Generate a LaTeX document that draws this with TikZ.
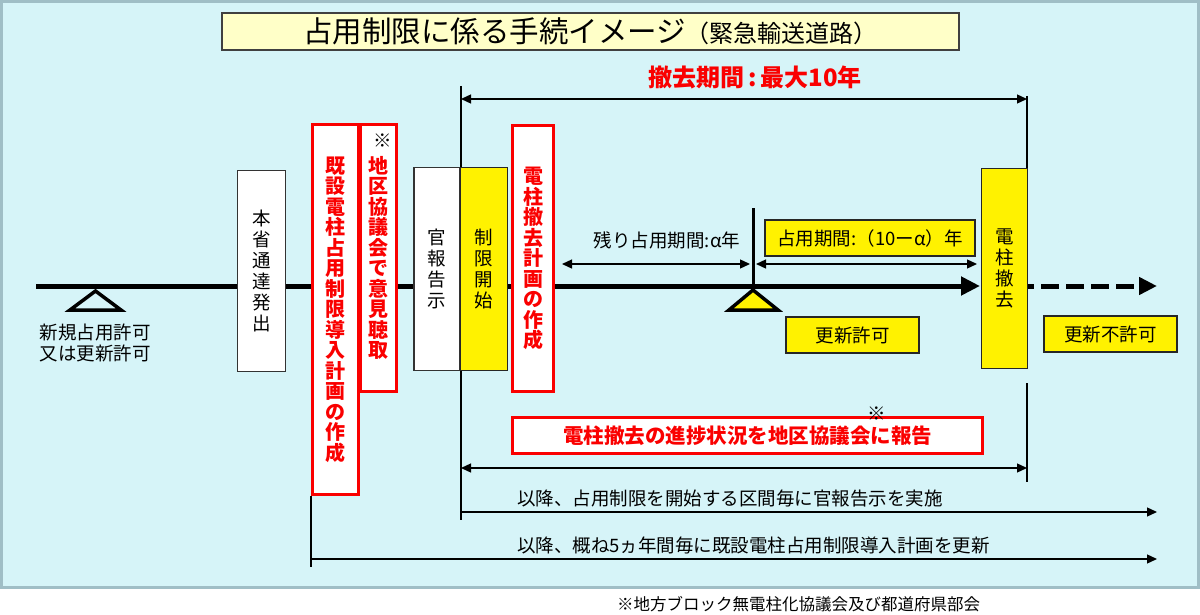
\documentclass[tikz,border=0pt]{standalone}
\usepackage{fontspec}
\setmainfont{Noto Sans CJK JP}
\usetikzlibrary{arrows.meta, positioning}
\definecolor{panelbg}{RGB}{214,244,248}
\definecolor{panelframe}{RGB}{160,190,198}
\definecolor{titlebg}{RGB}{255,255,200}
\definecolor{markred}{RGB}{250,0,0}
\tikzset{
>={Triangle[length=10pt,width=9pt]}, % filled tips on every span
every node/.style={inner sep=0pt, align=center, font=\fontsize{18.5}{21}\selectfont},
whitebox/.style={draw=black!80, fill=white, line width=1.3pt},
yellowbox/.style={draw=black!85, fill=yellow, line width=1.3pt},
redbox/.style={draw=markred, fill=white, line width=3pt, text=markred, font=\bfseries\fontsize{20}{20.5}\selectfont},
span/.style={<->, line width=1.3pt},
timeline/.style={line width=5pt},
}

\begin{document}
\begin{tikzpicture}[x=1pt, y=-1pt]
\useasboundingbox (0,0) rectangle (1200,615);
\draw[panelframe, fill=panelbg, line width=3pt] (1.5,1.5) rectangle (1198.5,587);

% fixed points of the time line
\coordinate (t0) at (36,286);
\coordinate (t1) at (980,286);
\coordinate (tEnd) at (1157,286);
\coordinate (startTop) at (461,86);
\coordinate (startBot) at (461,520);
\coordinate (endTop) at (1027,96);
\coordinate (endMid) at (1027,383);
\coordinate (endBot) at (1027,482);
\coordinate (renewTop) at (753,208);

\draw[line width=1.3pt] (startTop) -- (startBot);
\draw[line width=1.3pt] (endTop) -- (endTop |- 0,200);
\draw[line width=1.3pt] (endMid) -- (endBot);
\draw[timeline, -{Triangle[length=19pt,width=18pt]}] (t0) -- (t1);
\draw[line width=3pt] (renewTop) -- (renewTop |- t0);

% triangles on the time line
\draw[line width=3.5pt, fill=panelbg] (95.5,291) -- (121,310) -- (70,310) -- cycle;
\draw[line width=3.5pt, fill=yellow] (753,290) -- (778,310) -- (729,310) -- cycle;

% title
\node[draw=black!75, fill=titlebg, line width=1.2pt, minimum width=737pt, minimum height=37pt] (title) at (590.5,31.5)
  {\fontsize{29.5}{30}\selectfont 占用制限に係る手続イメージ\fontsize{24}{30}\selectfont （緊急輸送道路）};
\node[text=markred, font=\bfseries\fontsize{24}{25}\selectfont] (maxterm) at (755,77) {撤去期間\,:\,最大10年};

% boxes along the time line
\node[whitebox, minimum width=48pt, minimum height=201pt] (notice) at (261.5,271) {本\\省\\通\\達\\発\\出};
\node[redbox, minimum width=46pt, minimum height=370pt] (plan) at (335.5,309.5) {既\\設\\電\\柱\\占\\用\\制\\限\\導\\入\\計\\画\\の\\作\\成};
\node[redbox, minimum width=36pt, minimum height=267pt] (council) at (378.5,258) {地\\区\\協\\議\\会\\で\\意\\見\\聴\\取};
\node at ([xshift=4pt, yshift=-18pt]council.north) {※};
\node[whitebox, minimum width=46pt, minimum height=203pt] (gazette) at (437,269) {官\\報\\告\\示};
\node[yellowbox, minimum width=47pt, minimum height=203pt] (start) at (484,269) {制\\限\\開\\始};
\node[redbox, minimum width=41pt, minimum height=266pt] (removal) at (533,258.5) {電\\柱\\撤\\去\\計\\画\\の\\作\\成};
\node[yellowbox, minimum width=46pt, minimum height=200pt] (pole) at (1004.5,268.5) {電\\柱\\撤\\去};
\draw[timeline, dash pattern=on 18pt off 7pt, dash phase=12pt, -{Triangle[length=18pt,width=17pt]}] (pole.east |- t0) -- (tEnd);

% labels under and over the time line
\node (newpermit) at (95,343) {新規占用許可\\又は更新許可};
\node[yellowbox, minimum width=133pt, minimum height=36pt] (renew) at (852.5,335) {更新許可};
\node[yellowbox, minimum width=133pt, minimum height=36pt] (norenew) at (1110.5,334) {更新不許可};
\node[yellowbox, minimum width=210pt, minimum height=36pt] (occupy) at (870,238) {占用期間:（10ーα）年};
\node (rest) at (667,240) {残り占用期間:α年};

% spans
\coordinate (alphaL) at (562,264);
\coordinate (alphaR) at (750,264);
\coordinate (occL) at (756,264);
\coordinate (occR) at (977,264);
\draw[span] (startTop |- 0,99) -- (endTop |- 0,99);
\draw[span] (alphaL) -- (alphaR);
\draw[span] (occL) -- (occR);

% report to the council
\node[redbox, minimum width=470pt, minimum height=36pt, font=\bfseries\fontsize{20.5}{22}\selectfont] (report) at (747.5,435.5) {電柱撤去の進捗状況を地区協議会に報告};
\node at ([xshift=129.5pt, yshift=2pt]report.north) {※};
\draw[span] (startTop |- 0,468) -- (endTop |- 0,468);

% repeated steps
\draw[line width=1.3pt] (plan.south west) -- ++(0,71);
\coordinate (gazetteRow) at (461,512);
\coordinate (planRow) at (311,559);
\draw[->, line width=1.3pt] (gazetteRow) -- (gazetteRow -| tEnd);
\draw[->, line width=1.3pt] (planRow) -- (planRow -| tEnd);
\node[anchor=west] (gazetteNote) at (517,499) {以降、占用制限を開始する区間毎に官報告示を実施};
\node[anchor=west] (planNote) at (517,545) {以降、概ね5ヵ年間毎に既設電柱占用制限導入計画を更新};

% footnote
\node[anchor=west, font=\fontsize{16.5}{18}\selectfont] (footnote) at (617,604) {※地方ブロック無電柱化協議会及び都道府県部会};
\end{tikzpicture}
\end{document}
